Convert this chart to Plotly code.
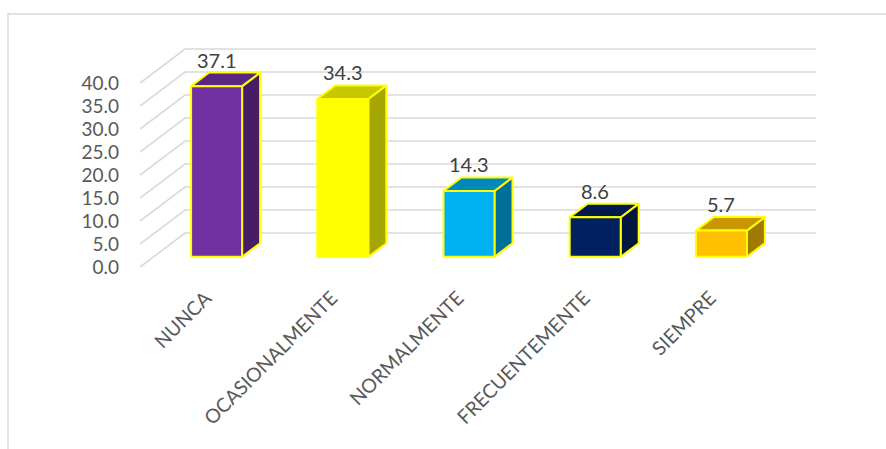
import plotly.graph_objects as go

# Survey frequency distribution (%)
categories = ["NUNCA", "OCASIONALMENTE", "NORMALMENTE", "FRECUENTEMENTE", "SIEMPRE"]
values = [37.1, 34.3, 14.3, 8.6, 5.7]
front_colors = ["#7030A0", "#FFFF00", "#00B0F0", "#002060", "#FFC000"]
top_colors = ["#5A2683", "#C8C800", "#0088BB", "#001A4D", "#C89600"]
side_colors = ["#481D68", "#A6A600", "#006F99", "#00163E", "#A07A00"]
y_ticks = [0, 5, 10, 15, 20, 25, 30, 35, 40]

# Page / plot-area geometry (pixels)
W, H = 886, 449
PL, PR, PT, PB = 140, 820, 40, 282
KX = 126.2          # pixels per category
KY = 4.6            # pixels per value unit
Y0_PX = 267         # pixel row of value 0 on the front plane

# Oblique depth of the 3D box, in data units
DX = 45 / KX
DY = 34 / KY
F0, F1 = 0.30, 0.70  # bar depth span (fraction of floor depth)
HALF_W = 0.202       # half bar width in category units

FONT = "Lato"

x_range = [-0.5, -0.5 + (PR - PL) / KX]
y_range = [(Y0_PX - PB) / KY, (Y0_PX - PT) / KY]

fig = go.Figure()

# Gridlines: diagonal on the side wall, horizontal on the back wall
gx, gy = [], []
x_left, x_right = -0.5, len(categories) - 0.5
for t in y_ticks:
    gx += [x_left, x_left + DX, x_right + DX, None]
    gy += [t, t + DY, t + DY, None]
fig.add_trace(go.Scatter(x=gx, y=gy, mode="lines",
                         line=dict(color="#D9D9D9", width=1.6),
                         hoverinfo="skip", showlegend=False))

edge = dict(color="#FFFF00", width=2)
ddx, ddy = (F1 - F0) * DX, (F1 - F0) * DY

for i, (cat, v) in enumerate(zip(categories, values)):
    cx = i + F0 * DX
    xl, xr = cx - HALF_W, cx + HALF_W
    b = F0 * DY
    t = v + F0 * DY
    # right side face
    fig.add_trace(go.Scatter(
        x=[xr, xr + ddx, xr + ddx, xr, xr],
        y=[b, b + ddy, t + ddy, t, b],
        fill="toself", fillcolor=side_colors[i], mode="lines", line=edge,
        hoverinfo="skip", showlegend=False))
    # top face
    fig.add_trace(go.Scatter(
        x=[xl, xr, xr + ddx, xl + ddx, xl],
        y=[t, t, t + ddy, t + ddy, t],
        fill="toself", fillcolor=top_colors[i], mode="lines", line=edge,
        hoverinfo="skip", showlegend=False))
    # front face
    fig.add_trace(go.Scatter(
        x=[xl, xr, xr, xl, xl],
        y=[b, b, t, t, b],
        fill="toself", fillcolor=front_colors[i], mode="lines", line=edge,
        name=cat, hovertemplate=f"{cat}: {v:.1f}<extra></extra>",
        showlegend=False))
    # value label above the bar
    fig.add_annotation(x=cx, y=t + ddy, text=f"{v:.1f}", showarrow=False,
                       xanchor="center", yanchor="bottom", yshift=-1,
                       font=dict(family=FONT, size=20, color="#404040"))

# Outer chart frame
pw, ph = PR - PL, PB - PT
fig.add_shape(type="rect", xref="paper", yref="paper",
              x0=(8 - PL) / pw, x1=(W + 20 - PL) / pw,
              y0=(PB - 14) / ph, y1=(PB - H - 20) / ph,
              line=dict(color="#D9D9D9", width=1.5), fillcolor="rgba(0,0,0,0)",
              layer="below")

fig.update_layout(
    width=W, height=H,
    margin=dict(l=PL, r=W - PR, t=PT, b=H - PB),
    paper_bgcolor="white", plot_bgcolor="white",
    showlegend=False,
    xaxis=dict(range=x_range, showgrid=False, zeroline=False, showline=False,
               tickmode="array", tickvals=[i + 0.02 for i in range(len(categories))],
               ticktext=categories, tickangle=-45, ticks="",
               tickfont=dict(family=FONT, size=19.5, color="#595959"),
               fixedrange=True),
    yaxis=dict(range=y_range, showgrid=False, zeroline=False, showline=False,
               tickmode="array", tickvals=y_ticks,
               ticktext=[f"{t:.1f}" for t in y_ticks], ticks="",
               ticklabelstandoff=20,
               tickfont=dict(family=FONT, size=19, color="#595959"),
               fixedrange=True),
)

fig.write_html("out.html")
